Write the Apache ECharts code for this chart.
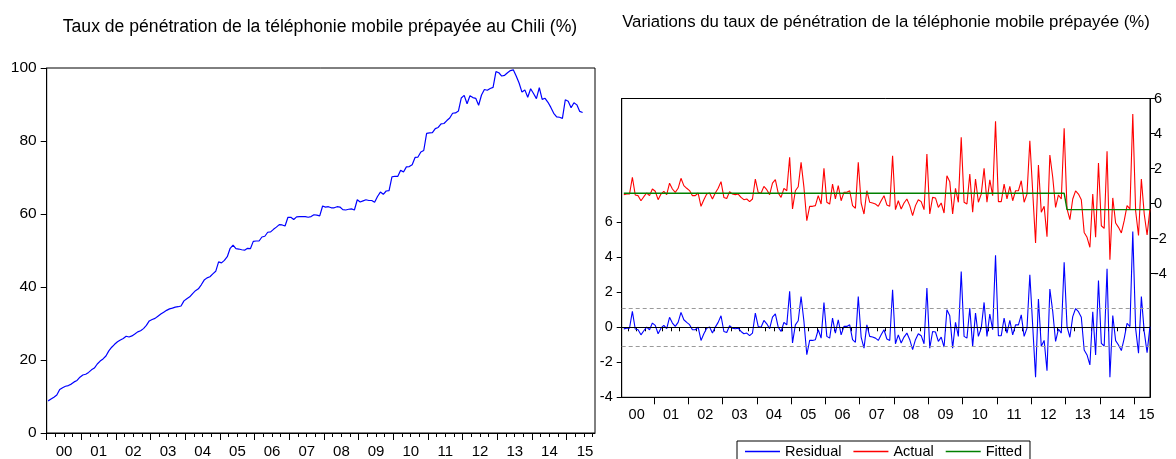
<!DOCTYPE html>
<html>
<head>
<meta charset="utf-8">
<script src="https://cdn.jsdelivr.net/npm/echarts@6/dist/echarts.min.js"></script>
<style>
html,body{margin:0;padding:0;background:#fff;}
#main{width:1176px;height:459px;}
</style>
</head>
<body>
<div id="main"></div>
<script>
// ---------- DATA ----------
const leftTitle = 'Taux de pénétration de la téléphonie mobile prépayée au Chili (%)';
const rightTitle = 'Variations du taux de pénétration de la téléphonie mobile prépayée (%)';
const yearLabels = ['00','01','02','03','04','05','06','07','08','09','10','11','12','13','14','15'];
const seriesNames = ['Residual','Actual','Fitted'];

// Monthly penetration rate (%), Jan 2000 - Jun 2015
const levelStart = [2000, 1];
const level = [
  8.8, 9.3, 9.8, 10.4, 11.9, 12.4, 12.8, 13.0, 13.4, 14.0, 14.4, 15.3,
  15.9, 16.1, 16.6, 17.3, 17.8, 18.9, 19.7, 20.3, 21.1, 22.5, 23.5, 24.3,
  25.0, 25.5, 25.9, 26.5, 26.3, 26.6, 27.1, 27.7, 28.0, 28.6, 29.5, 30.7,
  31.1, 31.4, 32.0, 32.6, 33.1, 33.6, 34.0, 34.2, 34.5, 34.6, 34.8, 36.2,
  36.8, 37.3, 38.2, 39.0, 39.5, 40.6, 41.9, 42.5, 42.8, 43.6, 44.3, 46.9,
  46.6, 47.3, 48.3, 50.6, 51.5, 50.5, 50.4, 50.2, 50.1, 50.6, 50.5, 52.5,
  52.6, 52.6, 53.7, 53.9, 55.0, 55.1, 55.8, 56.4, 57.1, 57.0, 56.7, 59.1,
  59.1, 58.5, 59.2, 59.3, 59.3, 59.3, 59.1, 59.3, 59.8, 59.7, 59.5, 62.2,
  61.9, 62.0, 61.7, 61.7, 62.0, 61.9, 61.2, 61.1, 61.3, 61.4, 61.1, 63.9,
  63.3, 63.6, 63.9, 63.7, 63.7, 63.2, 64.8, 66.0, 65.4, 66.3, 66.4, 70.2,
  70.3, 70.3, 72.0, 71.5, 72.9, 73.0, 73.5, 75.5, 75.6, 77.0, 77.4, 82.1,
  82.2, 82.3, 83.4, 83.7, 84.7, 84.8, 85.6, 86.3, 87.6, 87.7, 88.2, 91.8,
  92.5, 90.2, 92.4, 91.9, 91.7, 89.8, 92.6, 94.1, 93.9, 94.4, 94.7, 99.0,
  98.7, 97.8, 98.0, 98.7, 99.3, 99.5, 97.8, 95.9, 93.4, 94.0, 92.0, 94.3,
  93.0, 91.6, 94.6, 91.4, 91.7, 90.6, 89.2, 87.6, 86.6, 86.5, 86.2, 91.3,
  90.9, 89.1, 90.5, 89.9, 88.1, 87.8
];

// Monthly variation (Actual), Feb 2000 - Jun 2015
const actualStart = [2000, 2];
const actual = [
        0.50, 0.54, 0.54, 1.50, 0.49, 0.45, 0.16, 0.39, 0.60, 0.45, 0.83,
  0.70, 0.22, 0.54, 0.70, 0.51, 1.16, 0.83, 0.64, 0.87, 1.44, 1.02, 0.87,
  0.74, 0.45, 0.45, 0.60, -0.16, 0.22, 0.54, 0.60, 0.26, 0.60, 0.87, 1.25,
  0.35, 0.29, 0.68, 0.54, 0.51, 0.54, 0.35, 0.22, 0.26, 0.11, 0.26, 1.40,
  0.64, 0.59, 0.98, 0.79, 0.51, 1.17, 1.36, 0.60, 0.35, 0.87, 0.73, 2.64,
  -0.31, 0.73, 0.96, 2.35, 0.92, -0.98, -0.16, -0.16, -0.12, 0.45, -0.03, 2.01,
  0.07, -0.03, 1.11, 0.26, 1.02, 0.16, 0.64, 0.64, 0.73, -0.12, -0.27, 2.35,
  0.03, -0.60, 0.73, 0.07, 0.03, -0.03, -0.16, 0.16, 0.45, -0.08, -0.16, 2.73,
  -0.35, 0.16, -0.31, 0.03, 0.26, -0.12, -0.69, -0.12, 0.22, 0.11, -0.35, 2.83,
  -0.60, 0.35, 0.32, -0.22, 0.03, -0.54, 1.59, 1.25, -0.60, 0.87, 0.07, 3.78,
  0.07, -0.03, 1.69, -0.50, 1.40, 0.07, 0.54, 2.01, 0.07, 1.35, 0.45, 4.70,
  0.11, 0.11, 1.11, 0.26, 0.98, 0.16, 0.73, 0.73, 1.30, 0.07, 0.54, 3.59,
  0.67, -2.26, 2.20, -0.50, -0.16, -1.89, 2.77, 1.50, -0.22, 0.49, 0.26, 4.30,
  -0.31, -0.92, 0.26, 0.72, 0.54, 0.22, -1.65, -1.93, -2.50, 0.54, -1.93, 2.32,
  -1.27, -1.42, 2.99, -3.21, 0.32, -1.11, -1.36, -1.68, -0.98, -0.12, -0.31, 5.12,
  -0.43, -1.83, 1.40, -0.60, -1.80, -0.31
];

// Fitted values, Feb 2000 - Jun 2015 (break in Jan 2013)
const fitted = [
        0.59, 0.59, 0.59, 0.59, 0.59, 0.59, 0.59, 0.59, 0.59, 0.59, 0.59,
  0.59, 0.59, 0.59, 0.59, 0.59, 0.59, 0.59, 0.59, 0.59, 0.59, 0.59, 0.59,
  0.59, 0.59, 0.59, 0.59, 0.59, 0.59, 0.59, 0.59, 0.59, 0.59, 0.59, 0.59,
  0.59, 0.59, 0.59, 0.59, 0.59, 0.59, 0.59, 0.59, 0.59, 0.59, 0.59, 0.59,
  0.59, 0.59, 0.59, 0.59, 0.59, 0.59, 0.59, 0.59, 0.59, 0.59, 0.59, 0.59,
  0.59, 0.59, 0.59, 0.59, 0.59, 0.59, 0.59, 0.59, 0.59, 0.59, 0.59, 0.59,
  0.59, 0.59, 0.59, 0.59, 0.59, 0.59, 0.59, 0.59, 0.59, 0.59, 0.59, 0.59,
  0.59, 0.59, 0.59, 0.59, 0.59, 0.59, 0.59, 0.59, 0.59, 0.59, 0.59, 0.59,
  0.59, 0.59, 0.59, 0.59, 0.59, 0.59, 0.59, 0.59, 0.59, 0.59, 0.59, 0.59,
  0.59, 0.59, 0.59, 0.59, 0.59, 0.59, 0.59, 0.59, 0.59, 0.59, 0.59, 0.59,
  0.59, 0.59, 0.59, 0.59, 0.59, 0.59, 0.59, 0.59, 0.59, 0.59, 0.59, 0.59,
  0.59, 0.59, 0.59, 0.59, 0.59, 0.59, 0.59, 0.59, 0.59, 0.59, 0.59, 0.59,
  0.59, 0.59, 0.59, 0.59, 0.59, 0.59, 0.59, 0.59, 0.59, 0.59, 0.59, 0.59,
  -0.35, -0.35, -0.35, -0.35, -0.35, -0.35, -0.35, -0.35, -0.35, -0.35, -0.35, -0.35,
  -0.35, -0.35, -0.35, -0.35, -0.35, -0.35, -0.35, -0.35, -0.35, -0.35, -0.35, -0.35,
  -0.35, -0.35, -0.35, -0.35, -0.35, -0.35
];

// +/- 1 standard error band around residual zero
const residualBand = 1.11;

const rightYTicks = [-4, -2, 0, 2, 4, 6];

// ---------- HELPERS ----------
const FONT = '"Liberation Sans", Arial, Helvetica, sans-serif';
function monthTime(start, i) {
  const m = start[1] - 1 + i;
  return start[0] + Math.floor(m / 12) + ((m % 12) + 0.5) / 12;
}
const levelData = level.map((v, i) => [monthTime(levelStart, i), v]);
const actualData = actual.map((v, i) => [monthTime(actualStart, i), v]);
const fittedData = fitted.map((v, i) => [monthTime(actualStart, i), v]);
const residualData = actual.map((v, i) => [monthTime(actualStart, i), +(v - fitted[i]).toFixed(3)]);

const years = yearLabels.map((s, i) => 2000 + i);
function yearTicks(min, max) { return years.concat([2016]).filter(y => y >= min && y <= max); }
function quarterTicks(min, max) {
  const out = [];
  years.forEach(y => [0.25, 0.5, 0.75].forEach(q => { if (y + q >= min && y + q <= max) out.push(y + q); }));
  return out;
}

const L = { min: 2000, max: 2015.815, lastLabel: 2015.53 };
const R = { min: 2000.064, max: 2015.46, lastLabel: 2015.36 };
function labelPos(cfg) {
  return years.map(y => (y === 2015 ? cfg.lastLabel : y + 0.5));
}

const black = '#000';
function xMain(grid, cfg, fontSize, margin) {
  return {
    gridIndex: grid, type: 'value', min: cfg.min, max: cfg.max, position: 'bottom',
    axisLine: { show: true, onZero: false, lineStyle: { color: black, width: 1 } },
    axisTick: { show: true, customValues: yearTicks(cfg.min, cfg.max), length: 7, lineStyle: { color: black } },
    axisLabel: { show: true, customValues: labelPos(cfg), formatter: v => yearLabels[Math.floor(v) - 2000],
      fontSize: fontSize, color: black, fontFamily: FONT, margin: margin },
    splitLine: { show: false }
  };
}
function xQuarter(grid, cfg) {
  return {
    gridIndex: grid, type: 'value', min: cfg.min, max: cfg.max, position: 'bottom', offset: 0,
    axisLine: { show: false },
    axisTick: { show: true, customValues: quarterTicks(cfg.min, cfg.max), length: 4, lineStyle: { color: black } },
    axisLabel: { show: false },
    splitLine: { show: false }
  };
}

const chart = echarts.init(document.getElementById('main'), null, { renderer: 'canvas' });
chart.setOption({
  animation: false,
  backgroundColor: '#fff',
  graphic: [
    { type: 'text', x: 320, y: 27, style: { text: leftTitle, font: '17.6px ' + FONT, fill: black, textAlign: 'center', textVerticalAlign: 'middle' } },
    { type: 'text', x: 886, y: 22, style: { text: rightTitle, font: '16.8px ' + FONT, fill: black, textAlign: 'center', textVerticalAlign: 'middle' } }
  ],
  legend: {
    left: 737, top: 441, orient: 'horizontal',
    data: seriesNames,
    icon: 'rect', itemWidth: 35, itemHeight: 1.5, itemGap: 12,
    borderColor: black, borderWidth: 1, padding: [3, 8, 4, 8],
    textStyle: { fontSize: 14.5, fontFamily: FONT, color: black }
  },
  grid: [
    { left: 46.7, top: 68, width: 548.3, height: 367.7, show: true, borderColor: black, borderWidth: 1, backgroundColor: 'transparent' },
    { left: 621.7, top: 98.5, width: 528.3, height: 298.8, show: true, borderColor: black, borderWidth: 1, backgroundColor: 'transparent' }
  ],
  xAxis: [
    xMain(0, L, 15, 11),
    xQuarter(0, L),
    xMain(1, R, 14.5, 10),
    xQuarter(1, R)
  ],
  yAxis: [
    { gridIndex: 0, type: 'value', min: 0, max: 100, interval: 20,
      axisLine: { show: true, lineStyle: { color: black } },
      axisTick: { show: true, length: 6, lineStyle: { color: black } },
      axisLabel: { fontSize: 15.5, color: black, fontFamily: FONT, margin: 10 },
      splitLine: { show: false } },
    { gridIndex: 1, type: 'value', min: -4, max: 13.07, position: 'left',
      axisLine: { show: true, lineStyle: { color: black } },
      axisTick: { show: true, customValues: rightYTicks, length: 5, lineStyle: { color: black } },
      axisLabel: { customValues: rightYTicks, fontSize: 14.5, color: black, fontFamily: FONT, margin: 9 },
      splitLine: { show: false } },
    { gridIndex: 1, type: 'value', min: -11.07, max: 6, position: 'right',
      axisLine: { show: true, lineStyle: { color: black } },
      axisTick: { show: true, customValues: rightYTicks, length: 5, lineStyle: { color: black } },
      axisLabel: { customValues: rightYTicks, fontSize: 14.5, color: black, fontFamily: FONT, margin: 4 },
      splitLine: { show: false } }
  ],
  series: [
    { name: 'Level', type: 'line', xAxisIndex: 0, yAxisIndex: 0, data: levelData,
      showSymbol: false, symbol: 'none', lineStyle: { color: '#0000ff', width: 1.2 }, itemStyle: { color: '#0000ff' } },
    { name: 'Residual', type: 'line', xAxisIndex: 2, yAxisIndex: 1, data: residualData,
      showSymbol: false, symbol: 'none', lineStyle: { color: '#0000ff', width: 1.1 }, itemStyle: { color: '#0000ff' }, z: 2,
      markLine: { silent: true, symbol: 'none', label: { show: false }, animation: false,
        data: [
          { yAxis: 0, lineStyle: { color: black, type: 'solid', width: 1 } },
          { yAxis: residualBand, lineStyle: { color: '#9a9a9a', type: [4, 3], width: 1 } },
          { yAxis: -residualBand, lineStyle: { color: '#9a9a9a', type: [4, 3], width: 1 } }
        ] } },
    { name: 'Actual', type: 'line', xAxisIndex: 2, yAxisIndex: 2, data: actualData,
      showSymbol: false, symbol: 'none', lineStyle: { color: '#ff0000', width: 1.1 }, itemStyle: { color: '#ff0000' }, z: 3 },
    { name: 'Fitted', type: 'line', xAxisIndex: 2, yAxisIndex: 2, data: fittedData,
      showSymbol: false, symbol: 'none', lineStyle: { color: '#008000', width: 1.4 }, itemStyle: { color: '#008000' }, z: 4 }
  ]
});
</script>
</body>
</html>
